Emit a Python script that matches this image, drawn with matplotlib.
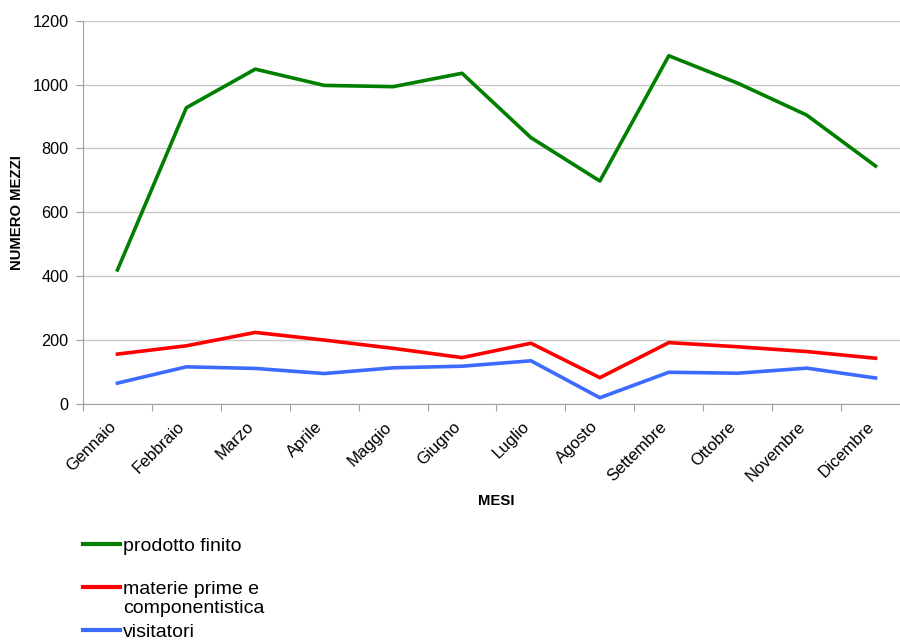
import matplotlib
matplotlib.use("Agg")
import matplotlib.pyplot as plt
from matplotlib.lines import Line2D
from matplotlib.transforms import ScaledTranslation

mesi = ["Gennaio", "Febbraio", "Marzo", "Aprile", "Maggio", "Giugno",
        "Luglio", "Agosto", "Settembre", "Ottobre", "Novembre", "Dicembre"]
prodotto_finito = [419, 928, 1049, 998, 994, 1036, 834, 698, 1091, 1005, 905, 745]
materie_prime = [155, 181, 223, 199, 173, 144, 189, 81, 191, 178, 163, 142]
visitatori = [64, 115, 110, 94, 112, 117, 134, 18, 98, 95, 111, 80]
y_ticks = [0, 200, 400, 600, 800, 1000, 1200]

plt.rcParams['font.family'] = ['Liberation Sans', 'DejaVu Sans']

fig = plt.figure(figsize=(9, 6.4), dpi=100)
ax = fig.add_axes([83/900, 1-403.5/640, 827/900, 382.5/640])

x = list(range(len(mesi)))
l1, = ax.plot(x, prodotto_finito, color='#007f00', lw=2.6)
l2, = ax.plot(x, materie_prime, color='#ff0000', lw=2.6)
l3, = ax.plot(x, visitatori, color='#3d6bff', lw=2.6)

ax.set_xlim(-0.5, len(mesi) - 0.5)
ax.set_ylim(0, 1200)
ax.set_yticks(y_ticks)
ax.set_yticklabels([str(v) for v in y_ticks], fontsize=11.7)
ax.yaxis.grid(True, color='#c8c8c8', lw=1)
ax.set_axisbelow(True)

ax.set_xticks([i - 0.5 for i in range(len(mesi) + 1)])
ax.set_xticklabels([])
ax.set_xticks(x, minor=True)
ax.set_xticklabels(mesi, minor=True, rotation=45, ha='right', va='center',
                   rotation_mode='anchor', fontsize=12)
ax.tick_params(axis='x', which='minor', length=0, pad=15)
ax.tick_params(axis='x', which='major', length=5, color='#a0a0a0', direction='out')
ax.tick_params(axis='y', length=5, color='#a0a0a0', direction='out', pad=5.5)
shift = ScaledTranslation(-4/100, 0, fig.dpi_scale_trans)
for lab in ax.get_xticklabels(minor=True):
    lab.set_transform(lab.get_transform() + shift)

for s in ['top', 'right']:
    ax.spines[s].set_visible(False)
for s in ['left', 'bottom']:
    ax.spines[s].set_color('#a0a0a0')

ax.set_ylabel("NUMERO MEZZI", fontsize=10.7, fontweight='bold')
ax.yaxis.set_label_coords(-(83-24)/827, 0.5)
fig.text(496.5/900, 1-501/640, "MESI", fontsize=10.7, fontweight='bold',
         ha='center', va='center')

# legend (manual layout)
entries = [(l1, "prodotto finito", 544), (l2, "materie prime e\ncomponentistica", 587),
           (l3, "visitatori", 630)]
for ln, lab, ypx in entries:
    yf = 1 - ypx/640
    fig.add_artist(Line2D([83/900, 120/900], [yf, yf], transform=fig.transFigure,
                          color=ln.get_color(), lw=3))
    fig.text(123/900, yf + 6/640, lab, fontsize=14, ha='left', va='top',
             linespacing=1.12)

fig.savefig("out.png", dpi=100)
